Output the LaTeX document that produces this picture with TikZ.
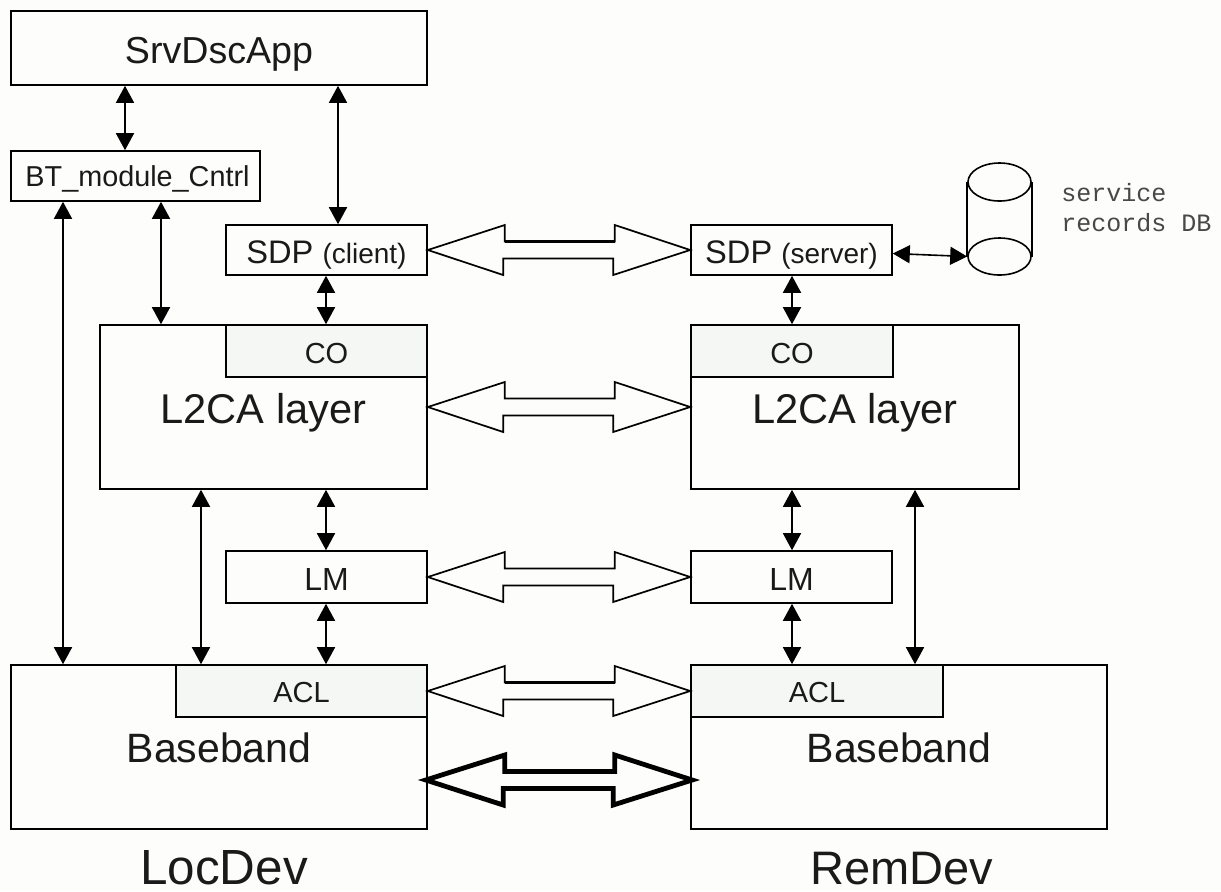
\documentclass[tikz,border=0pt]{standalone}
\usepackage{fontspec}
\setmainfont{Liberation Sans}
\setmonofont{Liberation Mono}
\usetikzlibrary{arrows.meta,calc,shapes.geometric}
\definecolor{pagebg}{HTML}{FDFDFB}
\definecolor{subbg}{HTML}{F5F7F5}
\definecolor{inktext}{HTML}{1A1A1A}
\newcommand{\hollowarrow}[3]{%
  \draw[#3] (#1) -- ++(77,-25) -- ++(0,16.5) -- ++(110,0) -- ++(0,-16.5) -- (#2)
    -- ++(-77,25) -- ++(0,-16.5) -- ++(-110,0) -- ++(0,16.5) -- cycle;}
\newcommand{\fs}[1]{\fontsize{#1}{#1}\selectfont}
\tikzset{
  pxsize/.style n args={2}{minimum width=#1*0.5pt,minimum height=#2*0.5pt},
  drop/.style={text height=#1*1pt,text depth=0pt},
  box/.style={draw=black,line width=0.8pt,inner sep=0pt,text=inktext,fill=pagebg},
  subbox/.style={box,fill=subbg},
  link/.style={line width=0.8pt,{Triangle[length=8.5pt,width=9pt]}-{Triangle[length=8.5pt,width=9pt]}},
  hollow/.style={draw=black,line width=0.85pt,fill=pagebg,miter limit=10},
  heavy/.style={draw=black,line width=2.4pt,fill=pagebg,miter limit=10},
  layerfont/.style={font=\fs{20.8}},
  bandfont/.style={font=\fs{20.5}},
  subfont/.style={font=\fs{14.5}},
  lmfont/.style={font=\fs{16}},
  title/.style={inner sep=0pt,text=inktext,drop=18},
}
\begin{document}
\begin{tikzpicture}[x=0.5pt,y=-0.5pt]
\fill[pagebg] (0,0) rectangle (1221,891);
\useasboundingbox (0,0) rectangle (1221,891);
% guide x positions
\foreach \n/\v in {xa/63,xb/125,xc/161,xd/201,xe/326,xf/338,xg/792,xh/915}{\coordinate (\n) at (\v,0);}
% boxes
\node[box,pxsize={416}{74},font=\fs{18.8},drop=15] (srv) at (219,48) {SrvDscApp};
\node[box,pxsize={249}{50},font=\fs{14.4},drop=10] (bt) at (135.5,176) {\hspace*{2pt}BT\_module\_Cntrl};
\node[box,pxsize={201}{50},drop=13] (sdpc) at (326.5,250) {\fs{16.3}SDP \fs{14}(client)};
\node[box,pxsize={201}{50},drop=13] (sdps) at (791.5,250) {\fs{16.3}SDP \fs{14}(server)};
\node[box,pxsize={327}{164},layerfont,drop=16] (l2l) at (263.5,407) {L2CA layer};
\node[subbox,pxsize={201}{52},subfont,drop=12] (col) at (326.5,351) {CO};
\node[box,pxsize={328}{164},layerfont,drop=16] (l2r) at (855,407) {L2CA layer};
\node[subbox,pxsize={202}{52},subfont,drop=12] (cor) at (792,351) {CO};
\node[box,pxsize={201}{52},lmfont,drop=13] (lml) at (326.5,577) {LM};
\node[box,pxsize={201}{52},lmfont,drop=13] (lmr) at (791.5,577) {LM};
\node[box,pxsize={416}{164},bandfont,drop=15] (bbl) at (219,747) {Baseband};
\node[subbox,pxsize={251}{52},subfont,drop=11] (acll) at (301.5,691) {ACL};
\node[box,pxsize={416}{164},bandfont,drop=15] (bbr) at (899,747) {Baseband};
\node[subbox,pxsize={252}{52},subfont,drop=11] (aclr) at (817,691) {ACL};
% database
\node[ellipse,draw=black,line width=0.8pt,pxsize={63}{38},inner sep=0pt] (dbtop) at (999.5,182) {};
\node[ellipse,draw=black,line width=0.8pt,pxsize={63}{37},inner sep=0pt] (dbbot) at (999.5,256.5) {};
\draw[line width=0.8pt] (dbtop.west) -- (dbbot.west) (dbtop.east) -- (dbbot.east);
\node[anchor=west,align=left,inner sep=0pt,font=\ttfamily\fontsize{12.5}{15}\selectfont,text=inktext!80] (dblabel) at (1061,208) {service\\records DB};
% titles
\node[title,font=\fs{24.7}] (loc) at (224,866) {LocDev};
\node[title,font=\fs{23.5}] (rem) at (901.5,866) {RemDev};
% vertical connectors
\draw[link] (srv.south -| xb) -- (bt.north -| xb);
\draw[link] (srv.south -| xf) -- (sdpc.north -| xf);
\draw[link] (bt.south -| xa) -- (bbl.north -| xa);
\draw[link] (bt.south -| xc) -- (l2l.north -| xc);
\draw[link] (sdpc.south -| xe) -- (col.north -| xe);
\draw[link] (l2l.south -| xd) -- (acll.north -| xd);
\draw[link] (l2l.south -| xe) -- (lml.north -| xe);
\draw[link] (lml.south -| xe) -- (acll.north -| xe);
\draw[link] (sdps.south -| xg) -- (cor.north -| xg);
\draw[link] (l2r.south -| xg) -- (lmr.north -| xg);
\draw[link] (lmr.south -| xg) -- (aclr.north -| xg);
\draw[link] (l2r.south -| xh) -- (aclr.north -| xh);
\draw[link] ($(sdps.east)+(0,3.5)$) -- (dbbot.west);
% hollow double arrows
\hollowarrow{sdpc.east}{sdps.west}{hollow}
\draw[line width=1.5pt] ($(sdpc.east)+(77,-8.5)$) -- ++(110,0);
\hollowarrow{l2l.east}{l2r.west}{hollow}
\hollowarrow{lml.east}{lmr.west}{hollow}
\hollowarrow{acll.east}{aclr.west}{hollow}
\draw[line width=1.5pt] ($(acll.east)+(77,-8.5)$) -- ++(110,0);
\coordinate (hl) at ($(bbl.east)+(-2,33)$);
\coordinate (hr) at ($(bbr.west)+(2,33)$);
\draw[heavy] (hl) -- ($(hl)+(79,-25)$) -- ++(0,16.5) -- ++(110,0) -- ++(0,-16.5) -- (hr)
  -- ($(hr)+(-79,25)$) -- ++(0,-16.5) -- ++(-110,0) -- ++(0,16.5) -- cycle;
\end{tikzpicture}
\end{document}
